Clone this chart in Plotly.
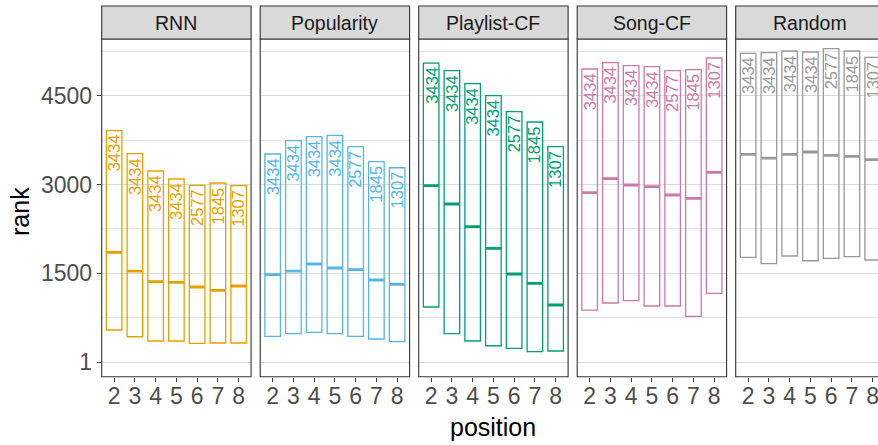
import plotly.graph_objects as go

# ---- data -------------------------------------------------------------
positions = [2, 3, 4, 5, 6, 7, 8]
counts = [3434, 3434, 3434, 3434, 2577, 1845, 1307]
models = ["RNN", "Popularity", "Playlist-CF", "Song-CF", "Random"]
colors = ["#E69F00", "#56B4E9", "#009E73", "#CC79A7", "#999999"]

rnn_low = [542, 428, 356, 356, 317, 322, 322]
rnn_med = [1854, 1538, 1358, 1347, 1268, 1212, 1285]
rnn_high = [3909, 3520, 3228, 3093, 2986, 3025, 2980]

pop_low = [435, 479, 503, 479, 435, 390, 344]
pop_med = [1476, 1538, 1657, 1589, 1560, 1386, 1314]
pop_high = [3515, 3740, 3807, 3831, 3638, 3385, 3283]

pcf_low = [930, 479, 356, 276, 232, 175, 187]
pcf_med = [2980, 2670, 2287, 1922, 1488, 1330, 964]
pcf_high = [5052, 4922, 4703, 4500, 4230, 4056, 3638]

scf_low = [879, 998, 1037, 947, 947, 773, 1162]
scf_med = [2861, 3098, 2991, 2963, 2822, 2766, 3206]
scf_high = [4951, 5058, 5007, 4990, 4922, 4939, 5137]

rnd_low = [1770, 1662, 1792, 1712, 1753, 1780, 1724]
rnd_med = [3510, 3447, 3510, 3549, 3493, 3476, 3420]
rnd_high = [5216, 5227, 5255, 5238, 5294, 5255, 5148]

lows = [rnn_low, pop_low, pcf_low, scf_low, rnd_low]
meds = [rnn_med, pop_med, pcf_med, scf_med, rnd_med]
highs = [rnn_high, pop_high, pcf_high, scf_high, rnd_high]

y_breaks = [1, 1500, 3000, 4500]
y_minor = [750.5, 2250.5, 3750.5, 5250.5]

# ---- layout geometry (pixels) ----------------------------------------
W, H = 878, 445
panel_left = [101.7, 260.2, 418.7, 577.2, 735.7]
panel_w = 149.4
panel_top, panel_bottom = 39.0, 376.7
strip_top = 6.0
x_lo = 1.4
px_per_unit = panel_w / 7.2
y_range = [-247.3, 5457.9]
box_w = 0.75

FONT = "Liberation Sans, Arial, Helvetica, sans-serif"


def px(xp):
    return xp / W


def py(yp):
    return (H - yp) / H


fig = go.Figure()
shapes = []
annotations = []

for i, name in enumerate(models):
    k = "" if i == 0 else str(i + 1)
    xa, ya = "x" + k, "y" + k
    c = colors[i]
    lo, md, hi = lows[i], meds[i], highs[i]

    # range boxes
    fig.add_trace(go.Bar(
        x=positions, y=[h - l for h, l in zip(hi, lo)], base=lo,
        width=box_w, xaxis=xa, yaxis=ya,
        marker=dict(color="rgba(0,0,0,0)", line=dict(color=c, width=1.3)),
        showlegend=False, hoverinfo="skip",
    ))

    # median bars
    mx, my = [], []
    for p, m in zip(positions, md):
        mx += [p - box_w / 2, p + box_w / 2, None]
        my += [m, m, None]
    fig.add_trace(go.Scatter(
        x=mx, y=my, mode="lines", xaxis=xa, yaxis=ya,
        line=dict(color=c, width=2.8), showlegend=False, hoverinfo="skip",
    ))

    # sample-size labels at the top of each box
    for p, h, n in zip(positions, hi, counts):
        annotations.append(dict(
            x=p, y=h, xref=xa, yref=ya, text=str(n), textangle=-90,
            showarrow=False, yanchor="top", xanchor="center", yshift=-2,
            font=dict(family=FONT, size=16.5, color=c),
        ))

    left = panel_left[i]
    right = min(left + panel_w, W)
    x_hi = x_lo + (right - left) / px_per_unit
    d0, d1 = px(left), px(right)

    xkey = "xaxis" + k
    ykey = "yaxis" + k
    fig.layout[xkey] = dict(
        domain=[d0, d1], range=[x_lo, x_hi], anchor=ya,
        tickmode="array", tickvals=positions, ticktext=[str(p) for p in positions],
        ticks="outside", ticklen=4, tickwidth=1.1, tickcolor="#333333",
        ticklabelstandoff=-5, ticklabeloverflow="allow",
        showgrid=False, zeroline=False, showline=False,
        tickfont=dict(family=FONT, size=23, color="#4D4D4D"),
    )
    fig.layout[ykey] = dict(
        domain=[py(panel_bottom), py(panel_top)], range=y_range, anchor=xa,
        tickmode="array", tickvals=y_breaks, ticktext=[str(b) for b in y_breaks],
        showticklabels=(i == 0), ticks="outside" if i == 0 else "",
        ticklen=4, tickwidth=1.1, tickcolor="#333333",
        showgrid=True, gridcolor="#D9D9D9", gridwidth=1.1,
        minor=dict(tickmode="array", tickvals=y_minor, showgrid=True,
                   gridcolor="#E3E3E3", gridwidth=0.9),
        zeroline=False, showline=False,
        tickfont=dict(family=FONT, size=23, color="#4D4D4D"),
    )
    if i > 0:
        fig.layout[ykey].matches = "y"

    # panel border
    rx1 = px(left + panel_w) if i < 4 else 1.02
    shapes.append(dict(type="rect", xref="paper", yref="paper",
                       x0=d0, x1=rx1, y0=py(panel_bottom), y1=py(panel_top),
                       line=dict(color="#333333", width=1.1), layer="above"))
    # facet strip
    shapes.append(dict(type="rect", xref="paper", yref="paper",
                       x0=d0, x1=rx1, y0=py(panel_top), y1=py(strip_top),
                       fillcolor="#D9D9D9", line=dict(color="#333333", width=1.1),
                       layer="above"))
    annotations.append(dict(
        x=px(left + panel_w / 2), y=py((strip_top + panel_top) / 2),
        xref="paper", yref="paper", text=name, showarrow=False,
        xanchor="center", yanchor="middle",
        font=dict(family=FONT, size=19.5, color="#1A1A1A"),
    ))

# axis titles
annotations.append(dict(
    x=px(493), y=py(427), xref="paper", yref="paper", text="position",
    showarrow=False, xanchor="center", yanchor="middle",
    font=dict(family=FONT, size=25, color="#000000"),
))
annotations.append(dict(
    x=px(20), y=py(212), xref="paper", yref="paper", text="rank",
    showarrow=False, xanchor="center", yanchor="middle", textangle=-90,
    font=dict(family=FONT, size=25, color="#000000"),
))

fig.update_layout(
    width=W, height=H, margin=dict(l=0, r=0, t=0, b=0),
    paper_bgcolor="white", plot_bgcolor="white",
    shapes=shapes, annotations=annotations, barmode="overlay",
    font=dict(family=FONT),
)

fig.write_html("out.html")
